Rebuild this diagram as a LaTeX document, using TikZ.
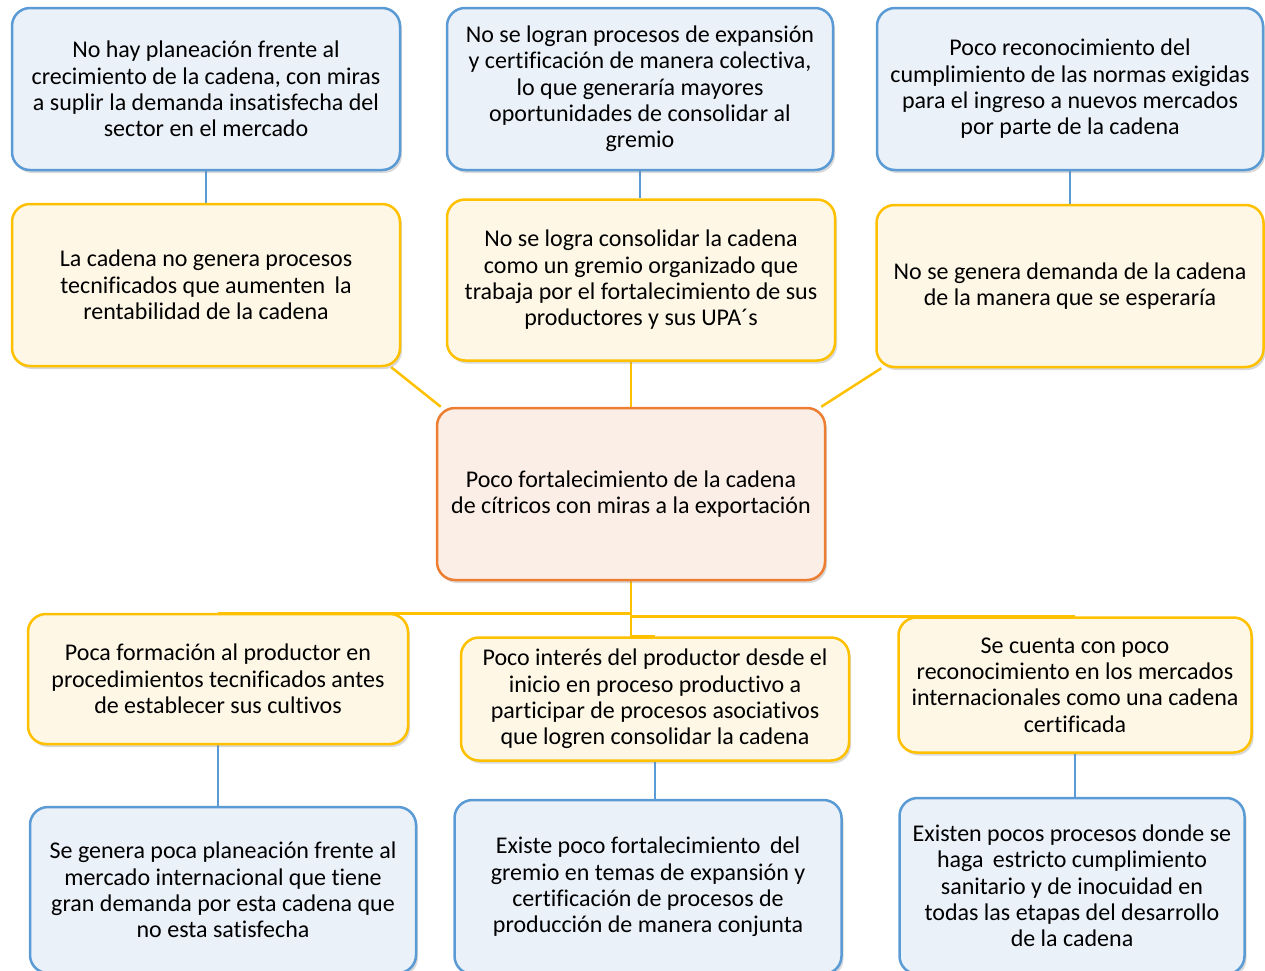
\documentclass[tikz,border=0pt]{standalone}
\usepackage{fontspec}
\setmainfont[Ligatures=NoCommon]{Carlito}
\usepackage{tikz}
\usetikzlibrary{positioning,calc,shadows,backgrounds}
\definecolor{efBlue}{HTML}{5B9BD5}
\definecolor{efFill}{HTML}{EBF1F9}
\definecolor{caYellow}{HTML}{FFC000}
\definecolor{caFill}{HTML}{FEF7E6}
\definecolor{prOrange}{HTML}{ED7D31}
\definecolor{prFill}{HTML}{FBEEE6}

\begin{document}
\begin{tikzpicture}[x=1pt,y=-1pt,
    box/.style={rounded corners=18pt, line width=2.5pt, align=center, inner sep=0pt,
      font=\fontsize{24}{26.3}\selectfont,
      drop shadow={shadow xshift=2pt, shadow yshift=-3pt, opacity=0.3}},
    efecto/.style={box, draw=efBlue, fill=efFill},
    causa/.style={box, draw=caYellow, fill=caFill},
    problema/.style={box, draw=prOrange, fill=prFill},
    blink/.style={draw=efBlue, line width=2.5pt},
    ylink/.style={draw=caYellow, line width=2.5pt},
  ]
  \useasboundingbox (0,0) rectangle (1265,970);

  % Effects (top)
  \node[efecto, minimum width=388pt, minimum height=162pt] (t1) at (206,89)
    {No hay planeación frente al\\crecimiento de la cadena, con miras\\a suplir la demanda insatisfecha del\\sector en el mercado};
  \node[efecto, minimum width=386pt, minimum height=162pt] (t2) at (640,89)
    {No se logran procesos de expansión\\y certificación de manera colectiva,\\lo que generaría mayores\\oportunidades de consolidar al\\gremio};
  \node[efecto, minimum width=386pt, minimum height=162pt] (t3) at (1070,89)
    {Poco reconocimiento del\\cumplimiento de las normas exigidas\\para el ingreso a nuevos mercados\\por parte de la cadena};

  \node[causa, minimum width=388pt, minimum height=162pt] (m1) at (206,285)
    {La cadena no genera procesos\\tecnificados que aumenten\, la\\rentabilidad de la cadena};
  \node[causa, minimum width=388pt, minimum height=161pt] (m2) at (641,280)
    {No se logra consolidar la cadena\\como un gremio organizado que\\trabaja por el fortalecimiento de sus\\productores y sus UPA´s};
  \node[causa, minimum width=387pt, minimum height=162pt] (m3) at (1070,286)
    {No se genera demanda de la cadena\\de la manera que se esperaría};

  % Central problem
  \node[problema, minimum width=388pt, minimum height=172pt] (core) at (631,494)
    {Poco fortalecimiento de la cadena\\de cítricos con miras a la exportación};

  % Causes (bottom)
  \node[causa, minimum width=380pt, minimum height=130pt] (b1) at (218,679)
    {Poca formación al productor en\\procedimientos tecnificados antes\\de establecer sus cultivos};
  \node[causa, minimum width=388pt, minimum height=123pt] (b2) at (655,699)
    {Poco interés del productor desde el\\inicio en proceso productivo a\\participar de procesos asociativos\\que logren consolidar la cadena};
  \node[causa, minimum width=353pt, minimum height=135pt] (b3) at (1075,685)
    {Se cuenta con poco\\reconocimiento en los mercados\\internacionales como una cadena\\certificada};

  \node[efecto, minimum width=386pt, minimum height=166pt] (l1) at (223,890)
    {Se genera poca planeación frente al\\mercado internacional que tiene\\gran demanda por esta cadena que\\no esta satisfecha};
  \node[efecto, minimum width=387pt, minimum height=174pt] (l2) at (648,887)
    {Existe poco fortalecimiento\, del\\gremio en temas de expansión y\\certificación de procesos de\\producción de manera conjunta};
  \node[efecto, minimum width=345pt, minimum height=176pt] (l3) at (1072,886)
    {Existen pocos procesos donde se\\haga\, estricto cumplimiento\\sanitario y de inocuidad en\\todas las etapas del desarrollo\\de la cadena};

  % Connectors
  \begin{scope}[on background layer]
    \draw[blink] (t1.south) -- (t1.south |- m1.north);
    \draw[blink] (t2.south) -- (t2.south |- m2.north);
    \draw[blink] (t3.south) -- (t3.south |- m3.north);
    \draw[ylink] ([xshift=-10pt]m1.south east) -- ([xshift=5pt]core.north west);
    \draw[ylink] (core.north) -- (core.north |- m2.south);
    \draw[ylink] ([xshift=6pt]m3.south west) -- ([xshift=-5pt]core.north east);
    \draw[ylink] (core.south) -- ++(0,32) -| (b1.north);
    \draw[ylink] (core.south) -- ++(0,35) -| (b3.north);
    \draw[ylink] (core.south) -- ++(0,55) -| (b2.north);
    \draw[blink] (b1.south) -- (b1.south |- l1.north);
    \draw[blink] (b2.south) -- (b2.south |- l2.north);
    \draw[blink] (b3.south) -- (b3.south |- l3.north);
  \end{scope}
\end{tikzpicture}
\end{document}
